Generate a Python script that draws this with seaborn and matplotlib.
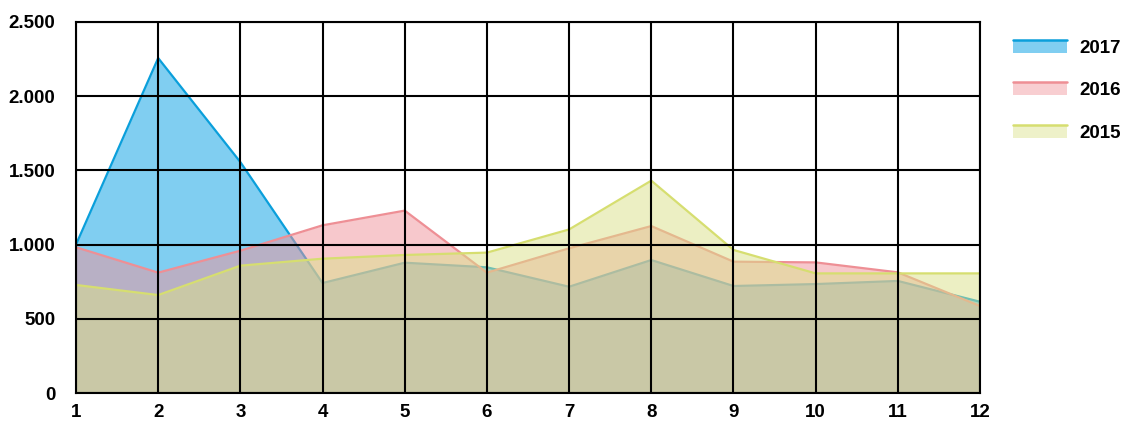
import numpy as np
import pandas as pd
import matplotlib
matplotlib.use("Agg")
import matplotlib.pyplot as plt
import seaborn as sns
from matplotlib.legend_handler import HandlerBase
from matplotlib.patches import Rectangle
from matplotlib.lines import Line2D
from matplotlib.ticker import FuncFormatter, MultipleLocator

# --- data -------------------------------------------------
months = list(range(1, 13))
years = ["2017", "2016", "2015"]
v2017 = [1000, 2257, 1556, 741, 878, 847, 716, 896, 721, 734, 755, 615]
v2016 = [982, 811, 959, 1130, 1229, 811, 975, 1125, 885, 880, 813, 586]
v2015 = [728, 660, 858, 905, 930, 946, 1102, 1431, 964, 806, 806, 806]

df = pd.DataFrame({"month": months * 3,
                   "value": v2017 + v2016 + v2015,
                   "year": [y for y in years for _ in months]})

line_col = {"2017": "#0A9FDB", "2016": "#EE8F95", "2015": "#D6DE70"}
fill_col = {"2017": "#80CEF1", "2016": "#F1939A", "2015": "#DBE189"}
fill_alpha = {"2017": 1.0, "2016": 0.5, "2015": 0.5}

sns.set_style("white")
plt.rcParams["font.family"] = ["Liberation Sans Narrow", "Liberation Sans", "DejaVu Sans"]
plt.rcParams["font.weight"] = "bold"
plt.rcParams["font.stretch"] = "condensed"
plt.rcParams["text.color"] = "black"
plt.rcParams["xtick.color"] = "black"
plt.rcParams["ytick.color"] = "black"

fig = plt.figure(figsize=(11.28, 4.25), dpi=100)
ax = fig.add_axes([76 / 1128, 1 - 393 / 425, (980 - 76) / 1128, (393 - 22) / 425])

z = 1.0
for yr in years:
    sub = df[df["year"] == yr]
    ax.fill_between(sub["month"], 0, sub["value"], color=fill_col[yr],
                    alpha=fill_alpha[yr], lw=0, zorder=z)
    sns.lineplot(data=sub, x="month", y="value", color=line_col[yr],
                 lw=1.6, ax=ax, zorder=z + 0.05)
    z += 0.1

ax.set_xlim(1, 12)
ax.set_ylim(0, 2500)
ax.xaxis.set_major_locator(MultipleLocator(1))
ax.yaxis.set_major_locator(MultipleLocator(500))
ax.yaxis.set_major_formatter(FuncFormatter(lambda v, p: f"{v:,.0f}".replace(",", ".")))
ax.set_axisbelow(False)
ax.grid(True, color="black", lw=1.5)
for s in ax.spines.values():
    s.set_color("black")
    s.set_linewidth(1.5)
    s.set_zorder(3)
ax.tick_params(axis="both", length=0, labelsize=13.5, labelcolor="black")
ax.tick_params(axis="y", pad=15)
ax.tick_params(axis="x", pad=8)
ax.set_xlabel("")
ax.set_ylabel("")


# legend swatch: filled box with a coloured line along its top
class SwatchHandler(HandlerBase):
    def __init__(self, line, fill, alpha):
        super().__init__()
        self.line, self.fill, self.alpha = line, fill, alpha

    def create_artists(self, legend, orig, xd, yd, w, h, fontsize, trans):
        r = Rectangle((-xd, -yd), w, h, facecolor=self.fill, alpha=self.alpha,
                      lw=0, transform=trans)
        l = Line2D([-xd, -xd + w], [-yd + h, -yd + h], color=self.line,
                   lw=1.8, transform=trans)
        return [r, l]


handles = [Rectangle((0, 0), 1, 1) for _ in years]
hmap = {h: SwatchHandler(line_col[y], fill_col[y], 0.45 if y != "2017" else 1.0)
        for h, y in zip(handles, years)}
fig.legend(handles, years, handler_map=hmap, loc="upper left",
           bbox_to_anchor=(996 / 1128, 1 - 23 / 425), frameon=False,
           fontsize=13.5, handlelength=2.9, handleheight=0.7,
           handletextpad=0.65, labelspacing=1.35, labelcolor="black")

fig.savefig("out.png", dpi=100)
